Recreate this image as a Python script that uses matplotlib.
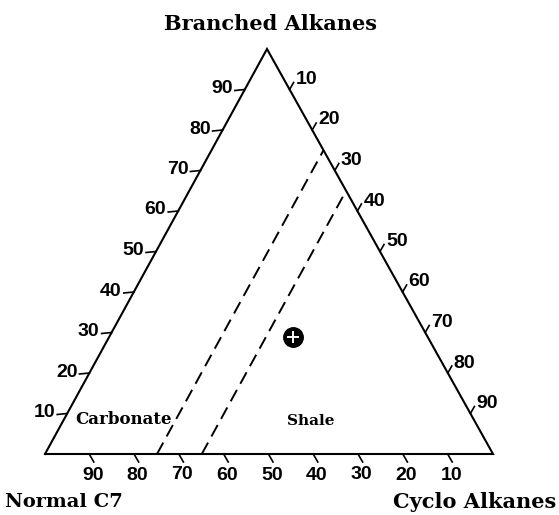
import matplotlib
matplotlib.use("Agg")
import matplotlib.pyplot as plt
import numpy as np

# ---- data ----
axis_titles = ["Branched Alkanes", "Normal C7", "Cyclo Alkanes"]
tick_values = [10, 20, 30, 40, 50, 60, 70, 80, 90]
bottom_tick_labels = [90, 80, 70, 60, 50, 40, 30, 20, 10]   # Normal C7 %
boundary_cyclo = [25, 35]                                    # dashed lines (constant cyclo %)
region_labels = ["Carbonate", "Shale"]
sample_normal = [30]
sample_branched = [29]
sample_cyclo = [41]

# ---- layout (pixel space) ----
W, H = 559, 515
BL = np.array([45.0, 454.0])
TOP = np.array([267.0, 49.0])
BR = np.array([493.0, 454.0])

def tern(n, b, c):
    s = n + b + c
    n, b, c = n / s, b / s, c / s
    return n * BL + b * TOP + c * BR

fig = plt.figure(figsize=(W / 100, H / 100), dpi=100)
ax = fig.add_axes([0, 0, 1, 1])
ax.set_xlim(0, W)
ax.set_ylim(H, 0)
ax.axis("off")

lw = 1.5
tri = np.array([BL, TOP, BR, BL])
ax.plot(tri[:, 0], tri[:, 1], color="black", lw=lw, solid_joinstyle="miter")

tick_font = dict(family="Liberation Sans", weight="bold", size=14)

# left edge: branched %
for v in tick_values:
    p = tern(100 - v, v, 0)
    ax.plot([p[0], p[0] - 10], [p[1], p[1] + 1], color="black", lw=1.2)
    ax.text(p[0] - 12, p[1] - 1, str(v), ha="right", va="center", **tick_font)

# right edge: cyclo %
for v in tick_values:
    p = tern(0, 100 - v, v)
    ax.plot([p[0], p[0] + 4], [p[1], p[1] - 7], color="black", lw=1.2)
    ax.text(p[0] + 6, p[1] - 10, str(v), ha="left", va="center", **tick_font)

# bottom edge: normal %
for v in bottom_tick_labels:
    p = tern(v, 0, 100 - v)
    ax.plot([p[0], p[0] + 4], [p[1] + 1, p[1] + 8], color="black", lw=1.2)
    ax.text(p[0] + 3, p[1] + 21, str(v), ha="center", va="center", **tick_font)

# dashed boundaries
for c in boundary_cyclo:
    p0 = tern(100 - c, 0, c)
    p1 = tern(0, 100 - c, c)
    ax.plot([p0[0], p1[0]], [p0[1], p1[1]], color="black", lw=1.4,
            dashes=(6.7, 3.6))

# sample point
for n, b, c in zip(sample_normal, sample_branched, sample_cyclo):
    p = tern(n, b, c)
    ax.plot(p[0], p[1], "o", ms=14, color="black")
    ax.plot(p[0], p[1], "+", ms=8, mew=1.4, color="white")

title_font = dict(family="DejaVu Serif", weight="bold")
ax.text(271, 24, axis_titles[0], ha="center", va="center", size=15, **title_font)
ax.text(5, 502, axis_titles[1], ha="left", va="center", size=14, **title_font)
ax.text(556, 502, axis_titles[2], ha="right", va="center", size=15, **title_font)

ax.text(123, 420, region_labels[0], ha="center", va="center", size=12, **title_font)
ax.text(311, 421, region_labels[1], ha="center", va="center", size=11, **title_font)

fig.savefig("out.png", dpi=100)
